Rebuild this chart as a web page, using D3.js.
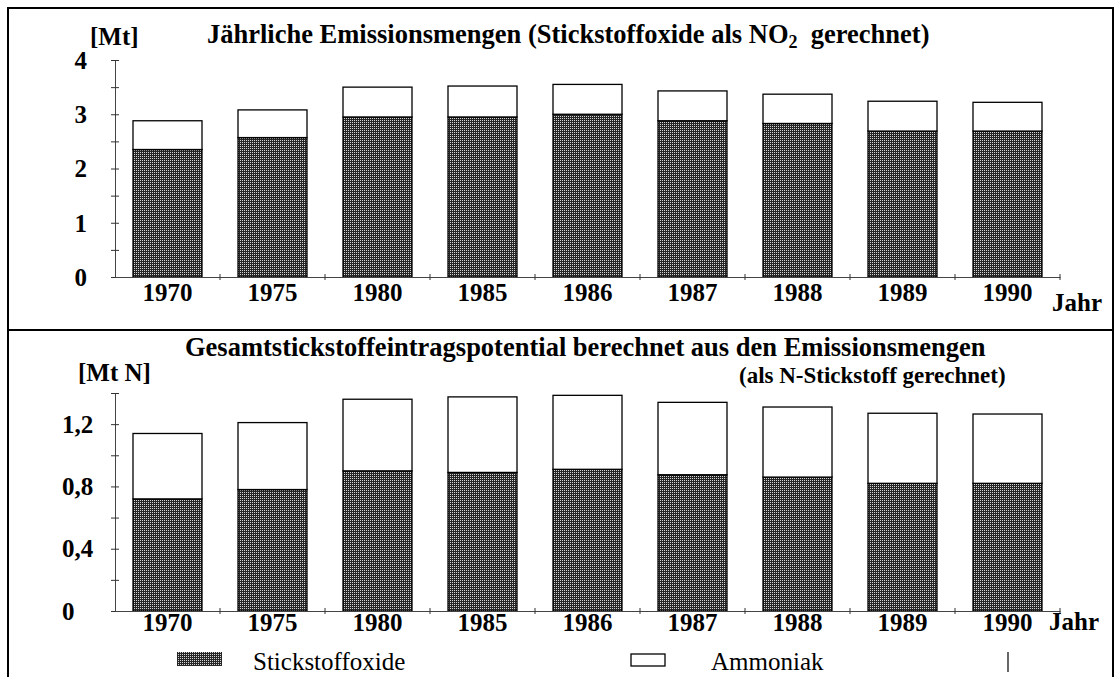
<!DOCTYPE html>
<html>
<head>
<meta charset="utf-8">
<script src="https://cdn.jsdelivr.net/npm/d3@7"></script>
<style>
body { margin: 0; background: #fff; }
svg text { font-family: "Liberation Serif", "Times New Roman", serif; fill: #000; }
</style>
</head>
<body>
<svg id="chart" width="1116" height="677"></svg>
<script>
// values
var years = ["1970", "1975", "1980", "1985", "1986", "1987", "1988", "1989", "1990"];
// upper chart, Mt (NOx as NO2)
var noxMt = [2.35, 2.57, 2.95, 2.95, 3.00, 2.88, 2.83, 2.69, 2.69];
var nh3Mt = [0.53, 0.51, 0.55, 0.57, 0.55, 0.55, 0.54, 0.55, 0.53];
// lower chart, Mt N
var noxN = [0.72, 0.78, 0.90, 0.89, 0.91, 0.875, 0.86, 0.82, 0.82];
var nh3N = [0.42, 0.43, 0.46, 0.485, 0.475, 0.465, 0.45, 0.45, 0.445];

var topTicks = [0, 1, 2, 3, 4];
var topTickLabels = ["0", "1", "2", "3", "4"];
var bottomTicks = [0, 0.4, 0.8, 1.2];
var bottomTickLabels = ["0", "0,4", "0,8", "1,2"];
var legendLabels = ["Stickstoffoxide", "Ammoniak"];

var svg = d3.select("#chart");

// stipple fill like the scanned screen
var pat = svg.append("defs").append("pattern")
    .attr("id", "dots")
    .attr("width", 2).attr("height", 2)
    .attr("patternUnits", "userSpaceOnUse");
pat.append("rect").attr("width", 2).attr("height", 2).attr("fill", "#262626");
pat.append("rect").attr("width", 1).attr("height", 1).attr("fill", "#d4d4d4");

// frame + divider
svg.append("path")
    .attr("d", "M8,677 V8 H1113 V677")
    .attr("fill", "none").attr("stroke", "#000").attr("stroke-width", 2);
svg.append("line")
    .attr("x1", 8).attr("x2", 1113).attr("y1", 330).attr("y2", 330)
    .attr("stroke", "#000").attr("stroke-width", 2);

var x = d3.scaleBand().domain(years).range([115, 1060])
    .paddingInner(36 / 105).paddingOuter(18 / 105);

function panel(o) {
    var y = d3.scaleLinear().domain([0, o.max]).range([o.y0, o.y1]);
    var g = svg.append("g");

    var rows = years.map(function(d, i) { return {year: d, nox: o.nox[i], nh3: o.nh3[i]}; });
    var series = d3.stack().keys(["nox", "nh3"])(rows);

    g.selectAll("g.layer")
        .data(series)
        .enter().append("g")
        .attr("class", "layer")
        .attr("fill", function(d, i) { return i == 0 ? "url(#dots)" : "#fff"; })
        .selectAll("rect")
        .data(function(d) { return d; })
        .enter().append("rect")
        .attr("x", function(d) { return x(d.data.year); })
        .attr("y", function(d) { return y(d[1]); })
        .attr("width", x.bandwidth())
        .attr("height", function(d) { return y(d[0]) - y(d[1]); })
        .attr("stroke", "#000")
        .attr("stroke-width", 1.3);

    // y axis, ticks cross the line
    var ya = g.append("g").attr("transform", "translate(115,0)")
        .call(d3.axisLeft(y).tickValues(d3.range(0, o.max + 1e-6, o.minor))
            .tickSize(4).tickSizeOuter(0).tickFormat(""));
    ya.selectAll("line").attr("x1", 4).attr("stroke", "#333");
    ya.select(".domain").attr("stroke", "#444");

    // y labels
    g.selectAll("text.ylab")
        .data(o.ticks)
        .enter().append("text")
        .attr("class", "ylab")
        .attr("x", o.labX)
        .attr("y", function(d) { return y(d); })
        .attr("dy", "0.35em")
        .attr("text-anchor", o.labAnchor)
        .style("font-size", "25px")
        .style("font-weight", "bold")
        .text(function(d, i) { return o.tickLabels[i]; });

    // x axis with year labels under the bars
    var xa = g.append("g").attr("transform", "translate(0," + o.y0 + ")")
        .call(d3.axisBottom(x).tickSize(0).tickPadding(o.pad));
    xa.select(".domain").attr("stroke", "#444");
    xa.selectAll("text")
        .style("font-size", "25px")
        .style("font-weight", "bold")
        .style("font-family", "'Liberation Serif', serif");

    // small ticks between the bars
    g.selectAll("line.sep")
        .data(years)
        .enter().append("line")
        .attr("class", "sep")
        .attr("x1", function(d) { return x(d) + x.bandwidth() + 18; })
        .attr("x2", function(d) { return x(d) + x.bandwidth() + 18; })
        .attr("y1", o.y0 - 3).attr("y2", o.y0 + 3)
        .attr("stroke", "#333");

    g.append("text")
        .attr("x", o.jahrX).attr("y", o.jahrY)
        .style("font-size", "25px").style("font-weight", "bold")
        .text("Jahr");
}

panel({max: 4, minor: 0.5, y0: 277, y1: 60, nox: noxMt, nh3: nh3Mt,
    ticks: topTicks, tickLabels: topTickLabels, labX: 87, labAnchor: "end",
    pad: 6, jahrX: 1052, jahrY: 311});
panel({max: 1.4, minor: 0.2, y0: 611, y1: 393, nox: noxN, nh3: nh3N,
    ticks: bottomTicks, tickLabels: bottomTickLabels, labX: 62, labAnchor: "start",
    pad: 2, jahrX: 1049, jahrY: 630});

// titles
var t1 = svg.append("text").attr("x", 207).attr("y", 43)
    .attr("xml:space", "preserve")
    .style("font-size", "26.5px").style("font-weight", "bold");
t1.append("tspan").text("Jährliche Emissionsmengen (Stickstoffoxide als NO");
t1.append("tspan").attr("dy", 5).style("font-size", "18px").text("2");
t1.append("tspan").attr("dy", -5).text("  gerechnet)");

svg.append("text").attr("x", 90).attr("y", 45)
    .style("font-size", "25px").style("font-weight", "bold").text("[Mt]");

svg.append("text").attr("x", 185).attr("y", 356)
    .style("font-size", "26.5px").style("font-weight", "bold")
    .text("Gesamtstickstoffeintragspotential berechnet aus den Emissionsmengen");
svg.append("text").attr("x", 739).attr("y", 383)
    .style("font-size", "23px").style("font-weight", "bold")
    .text("(als N-Stickstoff gerechnet)");
svg.append("text").attr("x", 78).attr("y", 381)
    .style("font-size", "25px").style("font-weight", "bold").text("[Mt N]");

// legend
svg.append("rect").attr("x", 177).attr("y", 652).attr("width", 45).attr("height", 14)
    .attr("fill", "url(#dots)");
svg.append("text").attr("x", 253).attr("y", 670)
    .style("font-size", "25px").text(legendLabels[0]);
svg.append("rect").attr("x", 631).attr("y", 654).attr("width", 34).attr("height", 12)
    .attr("fill", "#fff").attr("stroke", "#000").attr("stroke-width", 1.3);
svg.append("text").attr("x", 711).attr("y", 670)
    .style("font-size", "25px").text(legendLabels[1]);
svg.append("line").attr("x1", 1008).attr("x2", 1008).attr("y1", 652).attr("y2", 672)
    .attr("stroke", "#000").attr("stroke-width", 1.2);
</script>
</body>
</html>
